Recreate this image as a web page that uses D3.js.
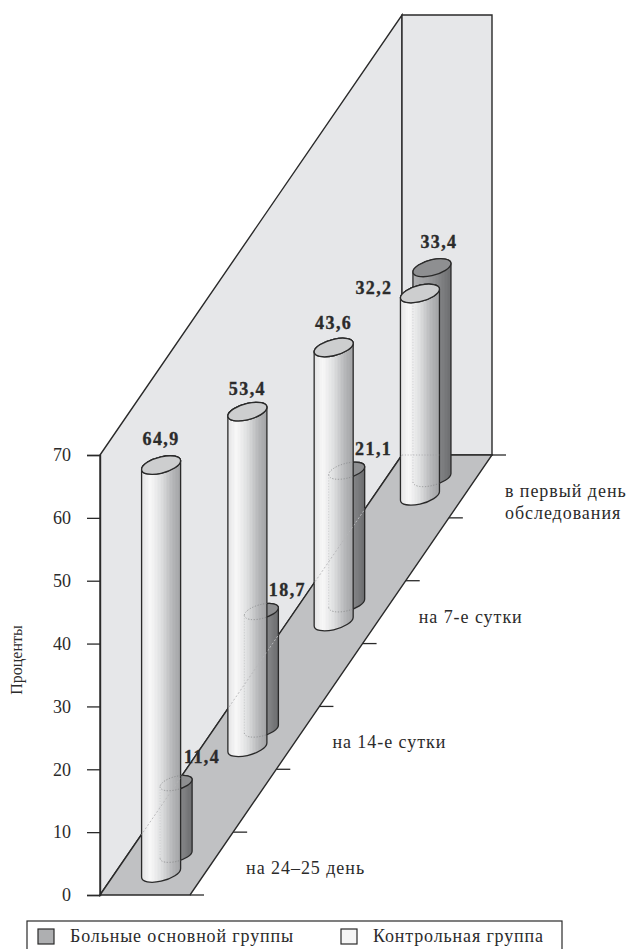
<!DOCTYPE html>
<html lang="ru">
<head>
<meta charset="utf-8">
<title>Проценты по срокам обследования</title>
<script src="https://cdn.jsdelivr.net/npm/d3@7/dist/d3.min.js"></script>
<style>
  html, body { margin: 0; padding: 0; background: #fff; }
  svg { display: block; }
  text { font-family: "Liberation Serif", serif; fill: #2b2b2b; }
</style>
</head>
<body>
<svg id="chart" width="628" height="949"></svg>
<script>
// Chart data, front row first
const categories = [["на 24–25 день"], ["на 14-е сутки"], ["на 7-е сутки"], ["в первый день", "обследования"]];
const mainGroup = [11.4, 18.7, 21.1, 33.4];
const controlGroup = [64.9, 53.4, 43.6, 32.2];
const rowDepth = [3.5, 23.5, 43.5, 63.5];
const yTicks = [0, 10, 20, 30, 40, 50, 60, 70];
const seriesNames = ["Больные основной группы", "Контрольная группа"];
const axisTitle = "Проценты";

const fmt = v => String(v).replace(".", ",");
const svg = d3.select("#chart");
const defs = svg.append("defs");

// Oblique projection: height and depth both lift a point, depth also shifts it right
const y = d3.scaleLinear().domain([0, 70]).range([895, 455]);
const depthX = d3.scaleLinear().domain([0, 70]).range([0, 302]);
const originX = 100, floorWidth = 90;
const project = (side, depth, h = 0) => [originX + side + depthX(depth), y(h + depth)];

const INK = "#2a2a2a";

// Back walls and floor
const poly = pts => d3.line()(pts) + "Z";
const walls = svg.append("g");
walls.append("path")
  .attr("d", poly([project(0, 0, 70), project(0, 70, 70), project(0, 70), project(0, 0)]))
  .attr("fill", "#e6e7e9").attr("stroke", INK).attr("stroke-width", 1.4);
walls.append("path")
  .attr("d", poly([project(0, 70, 70), project(floorWidth + 0, 70, 70), project(floorWidth, 70), project(0, 70)]))
  .attr("fill", "#e6e7e9").attr("stroke", INK).attr("stroke-width", 1.4);
walls.append("path")
  .attr("d", poly([project(0, 0), project(0, 70), project(floorWidth, 70), project(floorWidth, 0)]))
  .attr("fill", "#c0c1c3").attr("stroke", INK).attr("stroke-width", 1.4);

// Value axis on the left
const axis = svg.append("g").attr("transform", `translate(${originX},0)`)
  .call(d3.axisLeft(y).tickValues(yTicks).tickSize(13).tickPadding(16).tickFormat(d3.format("d")));
axis.select(".domain").attr("stroke", INK).attr("stroke-width", 1.4);
axis.selectAll(".tick line").attr("stroke", INK).attr("stroke-width", 1.3);
axis.selectAll(".tick text").attr("font-size", 18).attr("font-family", '"Liberation Serif", serif').attr("fill", "#2b2b2b");

// Ticks running off the right edge of the floor
svg.append("g").selectAll("line").data(yTicks).join("line")
  .attr("x1", d => project(floorWidth, d)[0])
  .attr("x2", d => project(floorWidth, d)[0] + 14)
  .attr("y1", d => y(d)).attr("y2", d => y(d))
  .attr("stroke", INK).attr("stroke-width", 1.3);

// Banded horizontal shading for the cylinder bodies
function banded(id, stops, bands = 26) {
  const col = d3.scaleLinear().domain(stops.map(s => s[0])).range(stops.map(s => s[1]));
  const g = defs.append("linearGradient").attr("id", id);
  d3.range(bands).forEach(i => {
    const c = col((i + 0.5) / bands);
    g.append("stop").attr("offset", i / bands).attr("stop-color", c);
    g.append("stop").attr("offset", (i + 1) / bands).attr("stop-color", c);
  });
}
banded("bodyLight", [[0, "#e4e4e5"], [0.22, "#f8f8f8"], [0.5, "#dedfe0"], [0.8, "#b4b5b7"], [1, "#a2a3a5"]]);
banded("bodyDark", [[0, "#b0b1b3"], [0.4, "#9a9b9d"], [1, "#6c6d6f"]]);

const TILT = -15;

// Geometry of a tilted cylinder whose outline is half-width hw wide
function cylinder(cx, top, bottom, hw) {
  const rx = hw * 1.03, ry = hw * 0.41;
  const phi = TILT * Math.PI / 180;
  const t = Math.atan2(-ry * Math.sin(phi), rx * Math.cos(phi));
  const dx = rx * Math.cos(t) * Math.cos(phi) - ry * Math.sin(t) * Math.sin(phi);
  const dy = rx * Math.cos(t) * Math.sin(phi) + ry * Math.sin(t) * Math.cos(phi);
  const body = `M${cx - dx},${top - dy}L${cx - dx},${bottom - dy}` +
    `A${rx},${ry} ${TILT} 0 0 ${cx + dx},${bottom + dy}L${cx + dx},${top + dy}` +
    `A${rx},${ry} ${TILT} 0 0 ${cx - dx},${top - dy}Z`;
  const ring = yc => `M${cx - dx},${yc - dy}A${rx},${ry} ${TILT} 0 0 ${cx + dx},${yc + dy}` +
    `A${rx},${ry} ${TILT} 0 0 ${cx - dx},${yc - dy}Z`;
  const front = yc => `M${cx - dx},${yc - dy}A${rx},${ry} ${TILT} 0 0 ${cx + dx},${yc + dy}`;
  return { cx, top, bottom, rx, ry, dx, dy, body, ring, front };
}

const whiteHalf = 19.5;
const darkHalf = d3.scaleLinear().domain([0, 3]).range([16, 19]);
const darkLift = 2.9;
const darkEdge = 31;

function drawCylinder(g, c, fill, capFill) {
  g.append("path").attr("d", c.body).attr("fill", `url(#${fill})`)
    .attr("stroke", INK).attr("stroke-width", 1.3).attr("stroke-linejoin", "round");
  g.append("path").attr("d", c.ring(c.top)).attr("fill", capFill)
    .attr("stroke", INK).attr("stroke-width", 1.3);
}

const cylinders = svg.append("g");

// Rows are painted from the back wall forward so nearer cylinders overlap farther ones
d3.range(categories.length - 1, -1, -1).forEach(i => {
  const [wx, wy] = project(floorWidth / 2 + 1, rowDepth[i]);
  const dHalf = darkHalf(i);
  const dcx = wx + darkEdge - dHalf;
  const dBase = y(rowDepth[i] + darkLift);
  const dark = cylinder(dcx, dBase - (y(0) - y(mainGroup[i])), dBase, dHalf);
  const white = cylinder(wx, wy - (y(0) - y(controlGroup[i])), wy, whiteHalf);

  const row = cylinders.append("g");
  drawCylinder(row, dark, "bodyDark", "#8e8f91");

  // Wall seam glimpsed through the dark cylinder
  const clipD = `clipDark${i}`;
  defs.append("clipPath").attr("id", clipD).append("path").attr("d", dark.body);
  row.append("line").attr("clip-path", `url(#${clipD})`)
    .attr("x1", project(0, 0)[0]).attr("y1", project(0, 0)[1])
    .attr("x2", project(0, 70)[0]).attr("y2", project(0, 70)[1])
    .attr("stroke", "#b9babc").attr("stroke-width", 1).attr("stroke-dasharray", "2 2");

  drawCylinder(row, white, "bodyLight", "#cdcecf");

  // Dotted traces of what stands behind the front cylinder
  const clipW = `clipWhite${i}`;
  defs.append("clipPath").attr("id", clipW).append("path").attr("d", white.body);
  const ghost = row.append("g").attr("clip-path", `url(#${clipW})`)
    .attr("fill", "none").attr("stroke", "#808183").attr("stroke-width", 0.7).attr("stroke-dasharray", "1.2 1.6");
  ghost.append("path").attr("d", dark.ring(dark.top));
  ghost.append("path").attr("d", dark.front(dark.bottom));
  ghost.append("path").attr("d", `M${dark.cx - dark.dx},${dark.top - dark.dy}V${dark.bottom - dark.dy}`)
    .attr("stroke", "#c4c5c7");
  ghost.append("line")
    .attr("x1", project(0, 0)[0]).attr("y1", project(0, 0)[1])
    .attr("x2", project(0, 70)[0]).attr("y2", project(0, 70)[1])
    .attr("stroke", "#b5b6b8").attr("stroke-width", 0.9).attr("stroke-dasharray", "2 2");
  ghost.append("line")
    .attr("x1", project(0, 70)[0]).attr("y1", y(70))
    .attr("x2", project(floorWidth, 70)[0]).attr("y2", y(70))
    .attr("stroke", "#a0a1a3");

  // Top cap redrawn so that ghost traces stay inside the body
  row.append("path").attr("d", white.ring(white.top)).attr("fill", "#cdcecf")
    .attr("stroke", INK).attr("stroke-width", 1.3);
});

// Value labels: each sits above its own cylinder, a few are nudged clear of neighbours
const valueLabels = svg.append("g").attr("font-weight", "bold").attr("font-size", 18)
  .attr("text-anchor", "middle").attr("letter-spacing", 1.4)
  .attr("stroke", "#2b2b2b").attr("stroke-width", 0.35);
const controlNudge = [[0, -20], [0, -17], [0, -19], [-46, 1]];
const mainNudge = [[26, -20], [26, -16], [27, -16], [7, -20]];
categories.forEach((_, i) => {
  const [wx, wy] = project(floorWidth / 2 + 1, rowDepth[i]);
  const wTop = wy - (y(0) - y(controlGroup[i]));
  const dBase = y(rowDepth[i] + darkLift);
  const dTop = dBase - (y(0) - y(mainGroup[i]));
  const dcx = wx + darkEdge - darkHalf(i);
  valueLabels.append("text").attr("x", wx + controlNudge[i][0]).attr("y", wTop + controlNudge[i][1])
    .text(fmt(controlGroup[i]));
  valueLabels.append("text").attr("x", dcx + mainNudge[i][0]).attr("y", dTop + mainNudge[i][1])
    .text(fmt(mainGroup[i]));
});

// Row names to the right of the floor
const rowNames = svg.append("g").attr("font-size", 18).attr("letter-spacing", 0.95);
categories.forEach((lines, i) => {
  const [wx, wy] = project(floorWidth / 2 + 1, rowDepth[i]);
  const t = rowNames.append("text").attr("x", wx + 85).attr("y", wy);
  lines.forEach((line, k) => t.append("tspan").attr("x", wx + 85).attr("dy", k ? 22 : 1).text(line));
});

// Axis title
svg.append("text").attr("transform", "translate(22,660) rotate(-90)")
  .attr("text-anchor", "middle").attr("font-size", 16).text(axisTitle);

// Legend, open at the page's lower edge
const legend = svg.append("g");
legend.append("rect").attr("x", 27).attr("y", 921).attr("width", 535).attr("height", 40)
  .attr("fill", "#fff").attr("stroke", INK).attr("stroke-width", 1.2);
const legendX = [38, 341];
const legendFill = ["#aeafb1", "#f5f5f5"];
seriesNames.forEach((name, i) => {
  legend.append("rect").attr("x", legendX[i]).attr("y", 929).attr("width", 16).attr("height", 15)
    .attr("fill", legendFill[i]).attr("stroke", INK).attr("stroke-width", 1.2);
  legend.append("text").attr("x", legendX[i] + 32).attr("y", 942).attr("font-size", 18)
    .attr("letter-spacing", 0.85).text(name);
});
</script>
</body>
</html>
